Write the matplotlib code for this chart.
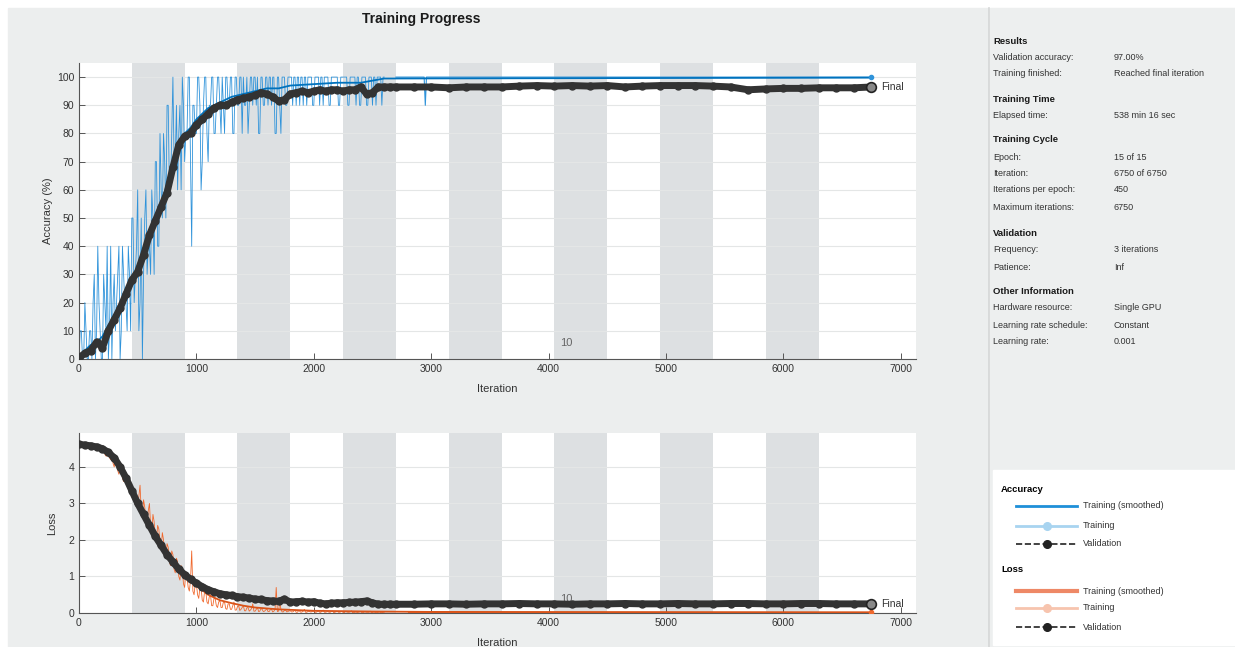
import matplotlib
matplotlib.use("Agg")
import matplotlib.pyplot as plt
from matplotlib.patches import Rectangle
import numpy as np

plt.rcParams['font.family'] = ['Liberation Sans', 'DejaVu Sans']

W, H = 1235, 647

# ---- data ----
epoch_len = 450
n_epochs = 15

# raw training accuracy, read every 20 iterations (0..2600) ...
raw_iter_a = np.arange(0, 2620, 20)
raw_acc_a = [0, 10, 0, 10, 0, 10, 20, 0, 40, 10,
             0, 20, 40, 10, 0, 30, 20, 40, 10, 30,
             20, 40, 10, 50, 30, 60, 20, 0, 50, 30,
             40, 60, 30, 70, 40, 60, 80, 50, 90, 60,
             100, 70, 60, 90, 100, 70, 80, 100, 40, 90,
             80, 100, 60, 90, 100, 70, 90, 100, 80, 100,
             90, 100, 80, 100, 90, 100, 80, 100, 90, 100,
             100, 90, 80, 100, 90, 100, 100, 80, 100, 90,
             100, 100, 90, 100, 80, 100, 80, 100, 90, 100,
             100, 90, 100, 100, 90, 100, 100, 90, 100, 100,
             90, 100, 100, 100, 90, 100, 100, 90, 100, 100,
             100, 90, 100, 100, 100, 90, 100, 100, 90, 100,
             90, 100, 100, 90, 100, 90, 100, 100, 100, 90, 100]
# ... and in between (10..2590)
raw_iter_b = np.arange(10, 2600, 20)
raw_acc_b = [10, 0, 20, 0, 10, 0, 30, 10, 20, 0,
             30, 10, 0, 40, 20, 10, 30, 0, 40, 20,
             10, 30, 50, 20, 40, 10, 50, 30, 60, 40,
             30, 50, 70, 40, 80, 50, 70, 90, 60, 80,
             70, 90, 80, 60, 90, 80, 100, 70, 90, 80,
             100, 90, 70, 100, 80, 90, 100, 80, 90, 100,
             80, 90, 100, 90, 100, 80, 100, 90, 100, 80,
             90, 100, 90, 100, 100, 90, 80, 100, 90, 100,
             90, 100, 100, 80, 100, 90, 100, 100, 90, 100,
             100, 100, 90, 100, 100, 90, 100, 100, 100, 90,
             100, 100, 90, 100, 100, 100, 90, 100, 100, 100,
             90, 100, 100, 100, 90, 100, 100, 100, 100, 90,
             100, 100, 90, 100, 100, 100, 90, 100, 100, 100]
tail_iter = [2700, 2940, 2950, 2960, 6750]
tail_acc = [100, 100, 90, 100, 100]

smooth_iter = [0, 50, 100, 150, 200, 250, 300, 350, 400, 450, 500, 550, 600,
               650, 700, 750, 800, 850, 900, 950, 1000, 1050, 1100, 1150,
               1200, 1300, 1400, 1500, 1600, 1700, 1800, 2000, 2200, 2400,
               2600, 6750]
smooth_acc = [0, 3, 5, 6, 8, 12, 15, 19, 22, 27, 31, 36, 42, 48, 55, 62, 70,
              76, 80, 82, 85, 87, 89, 90, 91, 93, 94, 95, 96, 96, 97, 97.5,
              98, 98, 99.5, 99.8]

val_iter = np.concatenate([np.arange(0, 2701, 50), np.arange(2850, 6751, 150)])
val_acc = [0.5, 2, 3, 6, 4, 10, 14, 18, 23, 28, 31, 37, 44, 49, 54, 59, 68, 76,
           79, 80, 83, 85, 87, 89, 90, 90, 91, 92, 92.5, 93, 93.5, 94.5, 94,
           93, 91.5, 92, 94, 94.5, 95, 94.5, 95, 95.5, 95, 95.5, 95.5, 95,
           95.5, 95.5, 96.5, 94, 94.5, 96.5, 96.5, 96.5, 96.5,
           96.5, 96.5, 96.2, 96.5, 96.5, 96.5, 96.8, 97, 96.8, 97, 96.8, 97,
           96.5, 96.8, 97, 97, 97, 96.8, 96.5, 95.5, 95.8, 96, 96, 96.2,
           96.2, 96.2, 96.5]

raw_loss_a = [4.6, 4.6, 4.58, 4.57, 4.55, 4.55, 4.52, 4.5, 4.48, 4.45,
              4.4, 4.35, 4.3, 4.25, 4.4, 4.0, 4.1, 3.8, 3.9, 3.6,
              3.7, 3.4, 3.5, 3.1, 3.3, 2.9, 3.5, 2.7, 2.9, 2.5,
              3.0, 2.2, 2.5, 2.0, 2.3, 1.8, 2.0, 1.5, 1.8, 1.3,
              1.6, 1.1, 1.4, 0.9, 1.2, 0.7, 1.0, 0.6, 1.7, 0.5,
              0.8, 0.4, 0.7, 0.3, 0.6, 0.25, 0.5, 0.2, 0.4, 0.15,
              0.35, 0.15, 0.3, 0.1, 0.25, 0.1, 0.3, 0.08, 0.2, 0.1,
              0.2, 0.06, 0.15, 0.08, 0.25, 0.05, 0.15, 0.05, 0.1, 0.05,
              0.12, 0.04, 0.1, 0.05, 0.7, 0.05, 0.1, 0.03, 0.08, 0.04,
              0.06, 0.03, 0.08, 0.02, 0.05, 0.03, 0.1, 0.02, 0.05, 0.03,
              0.05, 0.02, 0.06, 0.02, 0.08, 0.02, 0.04, 0.02, 0.05, 0.02,
              0.04, 0.02, 0.05, 0.01, 0.03, 0.02, 0.06, 0.01, 0.03, 0.02,
              0.04, 0.01, 0.03, 0.02, 0.05, 0.01, 0.02, 0.01, 0.03, 0.01, 0.02]
raw_loss_b = [4.6, 4.59, 4.58, 4.56, 4.55, 4.53, 4.5, 4.49, 4.46, 4.42,
              4.45, 4.3, 4.35, 4.2, 4.1, 4.3, 3.9, 4.0, 3.7, 3.8,
              3.5, 3.6, 3.2, 3.4, 3.0, 3.2, 2.8, 3.1, 2.6, 2.8,
              2.4, 2.7, 2.1, 2.4, 1.9, 2.2, 1.6, 1.9, 1.4, 1.7,
              1.2, 1.5, 1.0, 1.3, 0.8, 1.1, 0.7, 0.9, 0.6, 0.8,
              0.5, 0.7, 0.35, 0.6, 0.3, 0.45, 0.2, 0.4, 0.2, 0.3,
              0.15, 0.3, 0.12, 0.25, 0.1, 0.2, 0.08, 0.18, 0.07, 0.15,
              0.06, 0.14, 0.05, 0.12, 0.05, 0.1, 0.04, 0.12, 0.04, 0.08,
              0.04, 0.09, 0.03, 0.1, 0.04, 0.3, 0.03, 0.07, 0.03, 0.06,
              0.03, 0.05, 0.02, 0.06, 0.02, 0.05, 0.02, 0.04, 0.03, 0.05,
              0.02, 0.04, 0.02, 0.05, 0.02, 0.03, 0.02, 0.04, 0.01, 0.03,
              0.02, 0.03, 0.01, 0.04, 0.02, 0.03, 0.01, 0.02, 0.01, 0.03,
              0.01, 0.03, 0.02, 0.02, 0.01, 0.03, 0.01, 0.02, 0.01, 0.02]
tail_loss_iter = [2800, 4000, 6750]
tail_loss = [0.02, 0.02, 0.02]

smooth_loss_iter = [0, 200, 300, 400, 500, 600, 700, 800, 900, 1000, 1100,
                    1200, 1300, 1400, 1500, 1700, 2000, 2500, 3000, 6750]
smooth_loss = [4.6, 4.45, 4.2, 3.7, 3.1, 2.5, 1.95, 1.45, 1.05, 0.75, 0.5,
               0.35, 0.27, 0.2, 0.15, 0.1, 0.06, 0.04, 0.03, 0.02]

val_loss = [4.62, 4.6, 4.58, 4.55, 4.5, 4.4, 4.25, 4.0, 3.7, 3.35, 3.0, 2.7,
            2.4, 2.1, 1.85, 1.6, 1.4, 1.2, 1.05, 0.92, 0.82, 0.72, 0.64,
            0.58, 0.53, 0.5, 0.48, 0.45, 0.43, 0.41, 0.38, 0.37, 0.34, 0.33,
            0.32, 0.38, 0.3, 0.31, 0.32, 0.3, 0.31, 0.27, 0.25, 0.27, 0.28,
            0.28, 0.29, 0.3, 0.31, 0.33, 0.28, 0.24, 0.24, 0.24, 0.24,
            0.24, 0.25, 0.25, 0.24, 0.25, 0.25, 0.26, 0.25, 0.25, 0.24, 0.25,
            0.25, 0.26, 0.25, 0.25, 0.26, 0.25, 0.25, 0.26, 0.26, 0.25, 0.25,
            0.26, 0.26, 0.25, 0.25, 0.25]

info_rows = [
    ("Results", None),
    ("Validation accuracy:", "97.00%"),
    ("Training finished:", "Reached final iteration"),
    ("Training Time", None),
    ("Elapsed time:", "538 min 16 sec"),
    ("Training Cycle", None),
    ("Epoch:", "15 of 15"),
    ("Iteration:", "6750 of 6750"),
    ("Iterations per epoch:", "450"),
    ("Maximum iterations:", "6750"),
    ("Validation", None),
    ("Frequency:", "3 iterations"),
    ("Patience:", "Inf"),
    ("Other Information", None),
    ("Hardware resource:", "Single GPU"),
    ("Learning rate schedule:", "Constant"),
    ("Learning rate:", "0.001"),
]
info_y = [41, 58, 74, 99, 115, 140, 157, 174, 190, 208, 233, 250, 267,
          292, 308, 325, 342]

# merge the two raw readings into one series, ordered by iteration
raw_iter = np.concatenate([raw_iter_a, raw_iter_b])
order = np.argsort(raw_iter)
raw_iter = raw_iter[order]
raw_acc = np.concatenate([raw_acc_a, raw_acc_b])[order]
raw_loss = np.concatenate([raw_loss_a, raw_loss_b])[order]

# ---- figure ----
fig = plt.figure(figsize=(W / 100, H / 100), dpi=100, facecolor='white')

# background axes in pixel coordinates
bg = fig.add_axes([0, 0, 1, 1], zorder=0)
bg.set_xlim(0, W)
bg.set_ylim(H, 0)
bg.axis('off')
bg.add_patch(Rectangle((8, 8), 980, H, color='#ECEEEE'))
bg.add_patch(Rectangle((990, 8), W - 990, H, color='#EDEFEF'))
bg.plot([989, 989], [8, H], color='#D4D6D6', lw=1.2)
bg.add_patch(Rectangle((993, 470), W - 993, 175, color='white'))

bg.text(421, 19, "Training Progress", ha='center', va='center',
        fontsize=10, fontweight='bold', color='#1a1a1a')

for (label, value), y in zip(info_rows, info_y):
    if value is None:
        bg.text(993, y, label, fontsize=6.8, fontweight='bold',
                va='center', color='#1a1a1a')
    else:
        bg.text(993, y, label, fontsize=6.5, va='center', color='#333333')
        bg.text(1114, y, value, fontsize=6.5, va='center', color='#333333')

# legend panel
bg.text(1001, 489, "Accuracy", fontsize=6.8, fontweight='bold', va='center')
bg.text(1001, 570, "Loss", fontsize=6.8, fontweight='bold', va='center')
leg_items = [
    (506, '#1E8FD8', 2, '-', None, "Training (smoothed)"),
    (526, '#A8D4F0', 2, '-', 'o', "Training"),
    (544, '#222222', 1.2, '--', 'o', "Validation"),
    (591, '#EE8866', 3, '-', None, "Training (smoothed)"),
    (608, '#F7C4AE', 2, '-', 'o', "Training"),
    (627, '#222222', 1.2, '--', 'o', "Validation"),
]
for y, c, lw, ls, mk, label in leg_items:
    bg.plot([1016, 1077], [y, y], color=c, lw=lw, ls=ls)
    if mk:
        bg.plot([1046.5], [y], marker='o', color=c, ms=5.5)
    bg.text(1083, y, label, fontsize=6.5, va='center', color='#333333')


def style_axes(ax, ylim, yticks):
    ax.set_facecolor('white')
    ax.set_xlim(0, 7130)
    ax.set_ylim(*ylim)
    ax.set_xticks([0, 1000, 2000, 3000, 4000, 5000, 6000, 7000])
    ax.set_yticks(yticks)
    for e in range(1, n_epochs, 2):
        ax.axvspan(e * epoch_len, (e + 1) * epoch_len, color='#DDE0E2',
                   lw=0, zorder=1)
    ax.grid(axis='y', color='#E4E6E6', lw=0.8)
    ax.set_axisbelow('line')
    for s in ['top', 'right']:
        ax.spines[s].set_visible(False)
    for s in ['left', 'bottom']:
        ax.spines[s].set_color('#555555')
        ax.spines[s].set_linewidth(0.8)
    ax.tick_params(direction='in', length=4, width=0.7, colors='#555555',
                   labelcolor='#333333', labelsize=7.5)
    ax.set_xlabel("Iteration", fontsize=8, color='#333333', labelpad=7)


# accuracy
ax1 = fig.add_axes([79 / W, 1 - 359 / H, (916 - 79) / W, (359 - 63) / H],
                   zorder=1)
style_axes(ax1, (0, 105), range(0, 101, 10))
ax1.plot(raw_iter, raw_acc, color='#2F93DA', lw=0.6, zorder=2)
ax1.plot(tail_iter, tail_acc, color='#2F93DA', lw=0.8, zorder=2)
ax1.plot(smooth_iter, smooth_acc, color='#0072BD', lw=1.3, zorder=3)
ax1.plot(val_iter, val_acc, color='#333333', lw=5, marker='o', ms=5,
         zorder=4)
ax1.plot([6750], [tail_acc[-1]], marker='o', ms=3, color='#2F93DA', zorder=5)
ax1.plot([6750], [val_acc[-1]], marker='o', ms=7, mfc='#888888',
         mec='#222222', mew=1.2, zorder=5)
ax1.text(6830, val_acc[-1], "Final", fontsize=7.5, va='center',
         color='#333333')
ax1.text(4100, 4.5, "10", fontsize=8, color='#666666', zorder=1.6)
ax1.set_ylabel("Accuracy (%)", fontsize=8, color='#333333', labelpad=3)

# loss
ax2 = fig.add_axes([79 / W, 1 - 613 / H, (916 - 79) / W, (613 - 433) / H],
                   zorder=1)
style_axes(ax2, (0, 4.93), range(0, 5))
ax2.plot(raw_iter, raw_loss, color='#F0692E', lw=0.6, zorder=2)
ax2.plot(tail_loss_iter, tail_loss, color='#F0692E', lw=0.8, zorder=2)
ax2.plot(smooth_loss_iter, smooth_loss, color='#D95319', lw=1.3, zorder=3)
ax2.plot(val_iter, val_loss, color='#333333', lw=5, marker='o', ms=5,
         zorder=4)
ax2.plot([6750], [tail_loss[-1]], marker='o', ms=3, color='#F0692E', zorder=5)
ax2.plot([6750], [val_loss[-1]], marker='o', ms=7, mfc='#888888',
         mec='#222222', mew=1.2, zorder=5)
ax2.text(6830, val_loss[-1], "Final", fontsize=7.5, va='center',
         color='#333333')
ax2.text(4100, 0.3, "10", fontsize=8, color='#666666', zorder=1.6)
ax2.set_ylabel("Loss", fontsize=8, color='#333333', labelpad=8)

fig.savefig("out.png", dpi=100, facecolor=fig.get_facecolor())
